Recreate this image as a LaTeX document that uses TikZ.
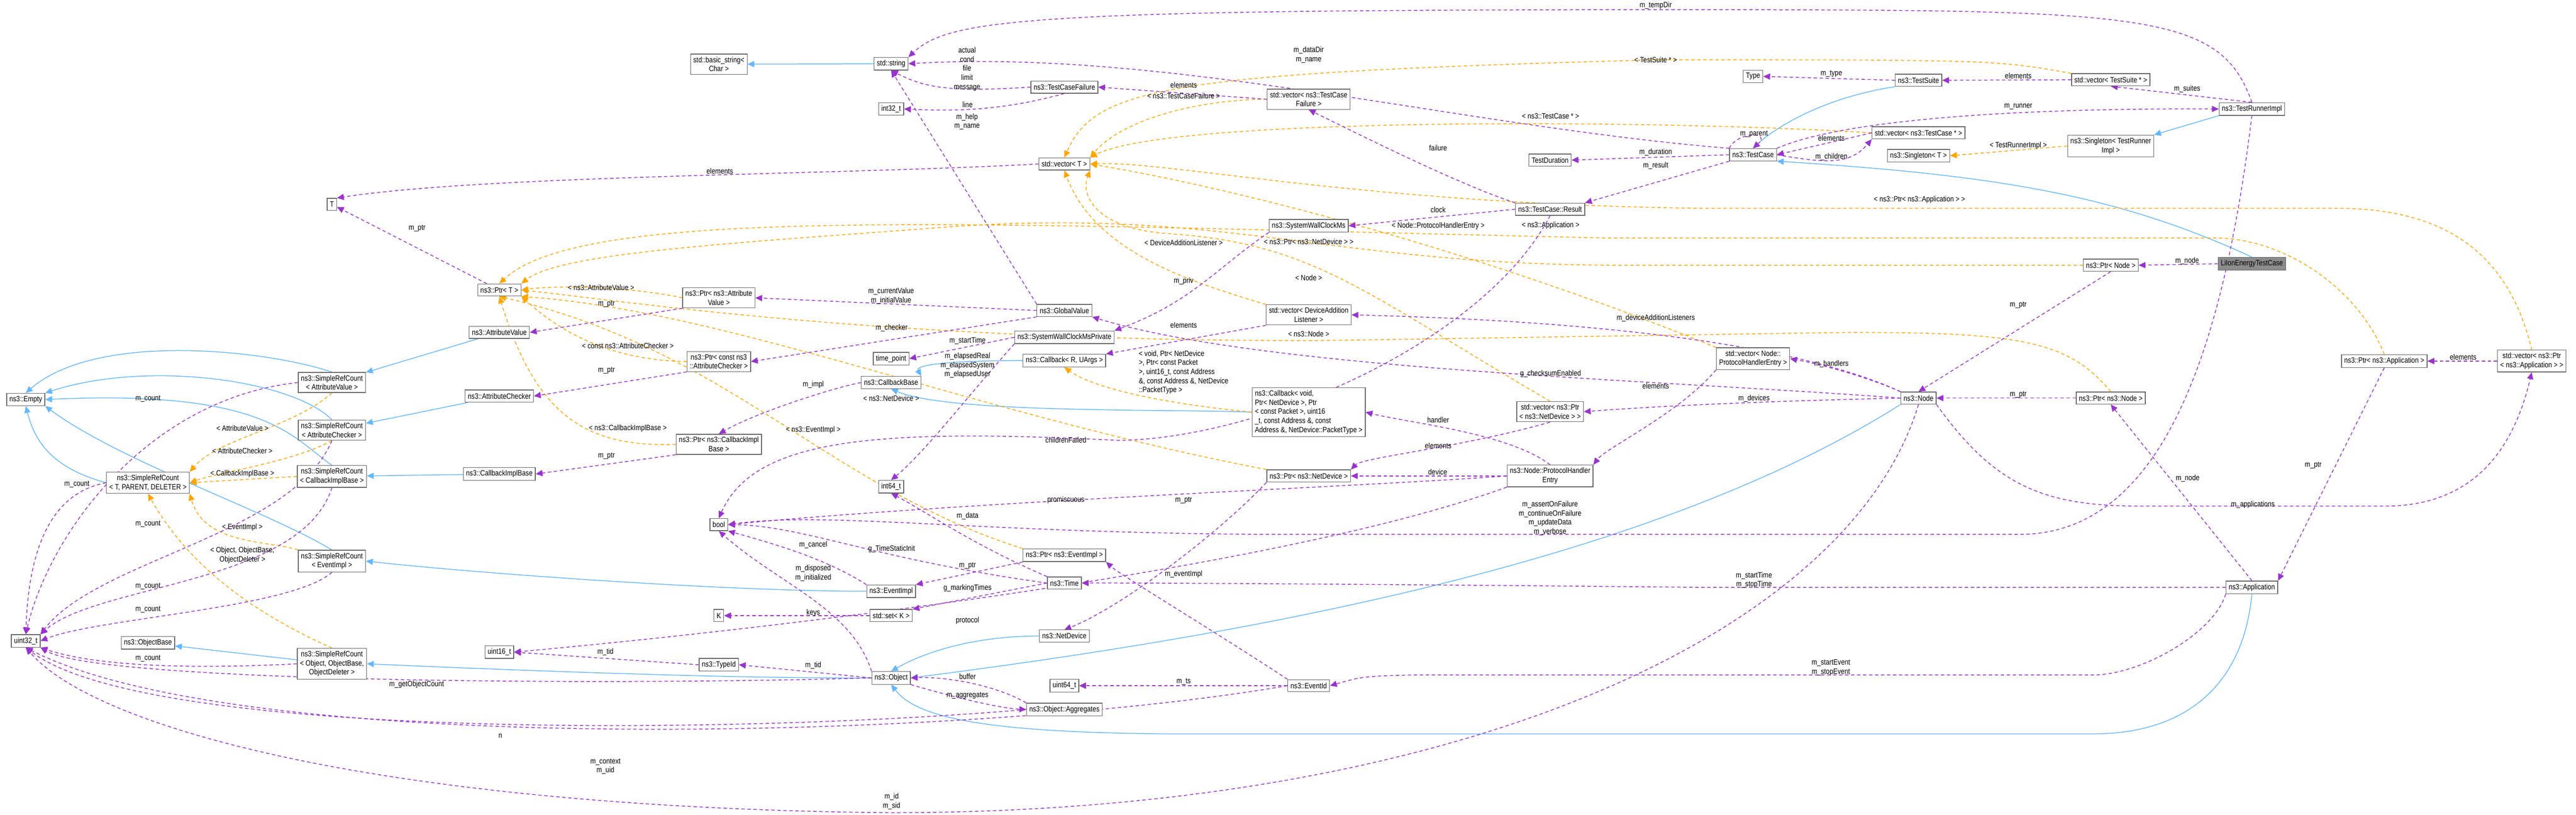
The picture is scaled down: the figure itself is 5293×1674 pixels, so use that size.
\documentclass[tikz,border=0pt]{standalone}
\usepackage{fontspec}
\setmainfont[FakeStretch=0.85]{Liberation Sans}
\usetikzlibrary{arrows.meta,backgrounds}
\definecolor{memc}{HTML}{9A32CD}
\definecolor{tplc}{HTML}{FFA500}
\definecolor{inhc}{HTML}{63B8FF}
\tikzset{
  cls/.style={draw=black!60, fill=white, align=center, inner sep=1.6pt,
    minimum height=0.25cm, font=\fontsize{4.5}{5.3}\selectfont},
  lbl/.style={align=center, inner sep=0pt, font=\fontsize{4.5}{5.3}\selectfont},
  mem/.style={draw=memc, dash pattern=on 2pt off 1.5pt, line width=0.45pt,
    -{Triangle[length=4pt,width=3.6pt]}},
  tpl/.style={draw=tplc, dash pattern=on 2pt off 1.5pt, line width=0.45pt,
    -{Triangle[length=4pt,width=3.6pt]}},
  inh/.style={draw=inhc, line width=0.45pt, -{Triangle[length=4pt,width=3.6pt]}}
}
\begin{document}
\begin{tikzpicture}[x=0.01cm,y=-0.01cm]
\useasboundingbox (0,0) rectangle (5293,1674);
% classes
\node[cls] (T) at (682,420) {T};
\node[cls] (ptrT) at (1026,596) {ns3::Ptr< T >};
\node[cls] (attrVal) at (1026,683) {ns3::AttributeValue};
\node[cls] (srcAttrVal) at (682,786) {ns3::SimpleRefCount\\< AttributeValue >};
\node[cls] (attrChk) at (1026,814) {ns3::AttributeChecker};
\node[cls] (empty) at (53,821) {ns3::Empty};
\node[cls] (srcAttrChk) at (682,884) {ns3::SimpleRefCount\\< AttributeChecker >};
\node[cls] (srcT) at (304,992) {ns3::SimpleRefCount\\< T, PARENT, DELETER >};
\node[cls] (srcCbImpl) at (682,979) {ns3::SimpleRefCount\\< CallbackImplBase >};
\node[cls] (cbImpl) at (1026,974) {ns3::CallbackImplBase};
\node[cls] (srcEvImpl) at (682,1153) {ns3::SimpleRefCount\\< EventImpl >};
\node[cls] (u32) at (53,1317) {uint32\_t};
\node[cls] (objBase) at (304,1321) {ns3::ObjectBase};
\node[cls] (srcObj) at (682,1364) {ns3::SimpleRefCount\\< Object, ObjectBase,\\ObjectDeleter >};
\node[cls] (u16) at (1026,1340) {uint16\_t};
\node[cls] (basicStr) at (1477,132) {std::basic\_string<\\Char >};
\node[cls] (str) at (1831,131) {std::string};
\node[cls] (tcFail) at (2187,179) {ns3::TestCaseFailure};
\node[cls] (i32) at (1831,224) {int32\_t};
\node[cls] (vecT) at (2187,337) {std::vector< T >};
\node[cls] (ptrAttrVal) at (1477,612) {ns3::Ptr< ns3::Attribute\\Value >};
\node[cls] (globVal) at (2187,638) {ns3::GlobalValue};
\node[cls] (swcPriv) at (2187,693) {ns3::SystemWallClockMsPrivate};
\node[cls] (timePt) at (1831,737) {time\_point};
\node[cls] (cbR) at (2187,741) {ns3::Callback< R, UArgs >};
\node[cls] (ptrAttrChk) at (1477,743) {ns3::Ptr< const ns3\\::AttributeChecker >};
\node[cls] (cbBase) at (1831,786) {ns3::CallbackBase};
\node[cls] (ptrCbImpl) at (1477,913) {ns3::Ptr< ns3::CallbackImpl\\Base >};
\node[cls] (i64) at (1831,1000) {int64\_t};
\node[cls] (bool) at (1477,1078) {bool};
\node[cls] (ptrEvImpl) at (2187,1141) {ns3::Ptr< ns3::EventImpl >};
\node[cls] (time) at (2187,1198) {ns3::Time};
\node[cls] (evImpl) at (1831,1215) {ns3::EventImpl};
\node[cls] (K) at (1477,1265) {K};
\node[cls] (setK) at (1831,1265) {std::set< K >};
\node[cls] (netDev) at (2187,1307) {ns3::NetDevice};
\node[cls] (typeId) at (1477,1366) {ns3::TypeId};
\node[cls] (object) at (1831,1393) {ns3::Object};
\node[cls] (u64) at (2187,1409) {uint64\_t};
\node[cls] (aggr) at (2187,1458) {ns3::Object::Aggregates};
\node[cls] (vecTcFail) at (2689,204) {std::vector< ns3::TestCase\\Failure >};
\node[cls] (type) at (3602,157) {Type};
\node[cls] (testDur) at (3185,329) {TestDuration};
\node[cls] (testCase) at (3602,318) {ns3::TestCase};
\node[cls] (result) at (3185,430) {ns3::TestCase::Result};
\node[cls] (swc) at (2689,464) {ns3::SystemWallClockMs};
\node[cls] (vecDAL) at (2689,647) {std::vector< DeviceAddition\\Listener >};
\node[cls] (vecPHE) at (3602,737) {std::vector< Node::\\ProtocolHandlerEntry >};
\node[cls, align=left] (cbVoid) at (2689,847) {ns3::Callback< void,\\ Ptr< NetDevice >, Ptr\\< const Packet >, uint16\\\_t, const Address \&, const\\ Address \&, NetDevice::PacketType >};
\node[cls] (vecNetDev) at (3185,846) {std::vector< ns3::Ptr\\< ns3::NetDevice > >};
\node[cls] (ptrNetDev) at (2689,978) {ns3::Ptr< ns3::NetDevice >};
\node[cls] (phe) at (3185,978) {ns3::Node::ProtocolHandler\\Entry};
\node[cls] (evId) at (2689,1409) {ns3::EventId};
\node[cls] (testSuite) at (3942,165) {ns3::TestSuite};
\node[cls] (vecSuite) at (4337,164) {std::vector< TestSuite * >};
\node[cls] (runner) at (4627,224) {ns3::TestRunnerImpl};
\node[cls] (vecTc) at (3942,273) {std::vector< ns3::TestCase * >};
\node[cls] (singTR) at (4337,300) {ns3::Singleton< TestRunner\\Impl >};
\node[cls] (singT) at (3942,320) {ns3::Singleton< T >};
\node[cls, fill=black!45] (liion) at (4627,542) {LiIonEnergyTestCase};
\node[cls] (ptrNode) at (4337,545) {ns3::Ptr< Node >};
\node[cls] (ptrApp) at (4899,742) {ns3::Ptr< ns3::Application >};
\node[cls] (vecApp) at (5202,742) {std::vector< ns3::Ptr\\< ns3::Application > >};
\node[cls] (ptrNsNode) at (4337,818) {ns3::Ptr< ns3::Node >};
\node[cls] (nsnode) at (3942,818) {ns3::Node};
\node[cls] (app) at (4627,1207) {ns3::Application};
\begin{scope}[on background layer]
% inheritance
\draw[inh] (str) -- (basicStr);
\draw[inh] (attrVal) -- (srcAttrVal);
\draw[inh] (attrChk) -- (srcAttrChk);
\draw[inh] (cbImpl) -- (srcCbImpl);
\draw[inh] (evImpl.west) .. controls (1500,1215) and (1000,1180) .. (srcEvImpl.east);
\draw[inh] (object.west) .. controls (1500,1395) and (1000,1375) .. (srcObj.east);
\draw[inh] (srcObj) -- (objBase);
\draw[inh] (srcAttrVal.north) .. controls (550,720) and (200,680) .. (empty.north);
\draw[inh] (srcAttrChk.north) .. controls (600,780) and (300,740) .. (empty.north east);
\draw[inh] (srcCbImpl.north) .. controls (600,900) and (550,800) .. (empty.east);
\draw[inh] (srcEvImpl.north) .. controls (550,1050) and (250,950) .. (empty.south east);
\draw[inh] (srcT.west) .. controls (100,960) and (70,900) .. (empty.south);
\draw[inh] (cbR.west) .. controls (1950,741) and (1880,750) .. (cbBase.north east);
\draw[inh] (cbVoid.west) .. controls (2400,840) and (1950,850) .. (cbBase.south);
\draw[inh] (netDev.west) .. controls (2000,1307) and (1900,1340) .. (object.north);
\draw[inh] (nsnode.south west) .. controls (3400,1150) and (2600,1300) .. (object.east);
\draw[inh] (app.south) .. controls (4610,1400) and (4500,1508) .. (4300,1508) -- (2400,1508) .. controls (2000,1505) and (1880,1470) .. (object.south);
\draw[inh] (testSuite.south west) .. controls (3750,200) and (3650,260) .. (testCase.north);
\draw[inh] (liion.north) .. controls (4350,400) and (4100,360) .. (testCase.south east);
\draw[inh] (runner.south west) -- (singTR.north east);
% template instances
\draw[tpl] (srcAttrVal.south) .. controls (600,880) and (450,900) .. (srcT.north east);
\draw[tpl] (srcAttrChk.south) .. controls (600,950) and (450,970) .. (srcT.east);
\draw[tpl] (srcCbImpl.west) -- (srcT.east);
\draw[tpl] (srcEvImpl.north west) .. controls (550,1110) and (420,1120) .. (srcT.south east);
\draw[tpl] (srcObj.north) .. controls (500,1250) and (380,1150) .. (srcT.south);
\draw[tpl] (ptrAttrVal.west) .. controls (1300,590) and (1150,585) .. (ptrT.east);
\draw[tpl] (ptrAttrChk.west) .. controls (1250,740) and (1150,680) .. (ptrT.south east);
\draw[tpl] (ptrCbImpl.west) .. controls (1200,920) and (1100,850) .. (ptrT.south);
\draw[tpl] (ptrEvImpl.north west) .. controls (1700,1000) and (1500,720) .. (ptrT.south);
\draw[tpl] (ptrNetDev.north west) .. controls (2000,850) and (1500,640) .. (ptrT.south east);
\draw[tpl] (ptrNode.west) -- (3300,545) .. controls (2700,540) and (2500,420) .. (1900,470) .. controls (1500,500) and (1150,520) .. (ptrT.north east);
\draw[tpl] (ptrNsNode.north) .. controls (4250,700) and (4150,683) .. (3800,683) -- (2700,700) .. controls (1800,700) and (1300,620) .. (ptrT.east);
\draw[tpl] (ptrApp.north) .. controls (4850,600) and (4700,489) .. (4550,489) -- (3300,489) .. controls (2000,460) and (1200,420) .. (ptrT.north);
\draw[tpl] (vecTcFail.west) .. controls (2450,205) and (2300,250) .. (vecT.north east);
\draw[tpl] (vecSuite.north west) .. controls (4100,123) .. (3400,123) .. controls (2400,150) and (2250,180) .. (vecT.north);
\draw[tpl] (vecTc.west) .. controls (3400,245) and (2400,240) .. (vecT.north east);
\draw[tpl] (vecApp.north) .. controls (5150,500) and (5000,428) .. (4800,428) -- (3500,428) .. controls (2800,420) and (2400,330) .. (vecT.east);
\draw[tpl] (vecPHE.north west) .. controls (3000,500) and (2500,380) .. (vecT.east);
\draw[tpl] (vecNetDev.north) .. controls (2800,600) and (2700,500) .. (2400,480) .. controls (2250,470) and (2220,400) .. (vecT.south east);
\draw[tpl] (vecDAL.north west) .. controls (2450,580) and (2250,520) .. (vecT.south);
\draw[tpl] (cbVoid.west) .. controls (2400,830) and (2250,800) .. (cbR.south);
\draw[tpl] (singTR.west) -- (singT.east);
% members
\draw[mem] (ptrT) -- (T);
\draw[mem] (vecT.west) .. controls (1700,360) and (1000,360) .. (T.north east);
\draw[mem] (srcAttrVal.west) .. controls (300,820) and (100,1100) .. (u32.north);
\draw[mem] (srcT.west) .. controls (120,1010) and (60,1100) .. (u32.north);
\draw[mem] (srcAttrChk.south) .. controls (600,1100) and (200,1150) .. (u32.north east);
\draw[mem] (srcCbImpl.south) .. controls (620,1200) and (200,1200) .. (u32.north east);
\draw[mem] (srcEvImpl.south) .. controls (600,1250) and (200,1270) .. (u32.east);
\draw[mem] (srcObj.west) .. controls (400,1375) and (200,1370) .. (u32.south east);
\draw[mem] (object.west) .. controls (1200,1410) and (200,1400) .. (u32.south east);
\draw[mem] (aggr.west) .. controls (1500,1510) and (300,1520) .. (u32.south);
\draw[mem] (evId.west) .. controls (2000,1520) and (500,1560) .. (u32.south);
\draw[mem] (nsnode.south) .. controls (3800,1300) and (3000,1670) .. (1830,1670) .. controls (800,1660) and (200,1500) .. (u32.south);
\draw[mem] (ptrAttrVal.south west) -- (attrVal.east);
\draw[mem] (ptrAttrChk.south west) -- (attrChk.east);
\draw[mem] (ptrCbImpl.south west) -- (cbImpl.east);
\draw[mem] (tcFail.west) .. controls (1950,190) and (1900,180) .. (str.south);
\draw[mem] (tcFail.south) .. controls (2050,230) and (1950,228) .. (i32.east);
\draw[mem] (globVal.north west) -- (str.south);
\draw[mem] (globVal.west) -- (ptrAttrVal.east);
\draw[mem] (globVal.south west) -- (ptrAttrChk.east);
\draw[mem] (vecTcFail.west) -- (tcFail.east);
\draw[mem] (swc.south west) .. controls (2500,550) and (2450,620) .. (swcPriv.north east);
\draw[mem] (swcPriv.west) -- (timePt.east);
\draw[mem] (swcPriv.south west) .. controls (2000,800) and (1900,930) .. (i64.north);
\draw[mem] (vecNetDev.south) .. controls (3000,920) and (2800,940) .. (ptrNetDev.north east);
\draw[mem] (vecDAL.south west) -- (cbR.north east);
\draw[mem] (cbBase.west) .. controls (1700,800) and (1550,850) .. (ptrCbImpl.north);
\draw[mem] (result.west) -- (swc.east);
\draw[mem] (result.north west) .. controls (3000,380) and (2800,280) .. (vecTcFail.south);
\draw[mem] (result.south) .. controls (3050,700) and (2600,900) .. (2300,905) .. controls (1800,880) and (1550,900) .. (bool.north);
\draw[mem] (phe.west) .. controls (2800,1000) and (2000,1030) .. (bool.east);
\draw[mem] (phe.south west) .. controls (2600,1180) and (1500,1300) .. (u16.east);
\draw[mem] (phe.west) -- (ptrNetDev.east);
\draw[mem] (phe.north) .. controls (3100,890) and (2900,870) .. (cbVoid.east);
\draw[mem] (ptrNetDev.south west) .. controls (2500,1100) and (2300,1250) .. (netDev.north);
\draw[mem] (ptrEvImpl.south west) -- (evImpl.north east);
\draw[mem] (time.north west) .. controls (2000,1120) and (1900,1050) .. (i64.south);
\draw[mem] (time.west) .. controls (1800,1150) and (1650,1080) .. (bool.east);
\draw[mem] (time.west) -- (setK.north east);
\draw[mem] (evImpl.north west) .. controls (1700,1150) and (1600,1120) .. (bool.south east);
\draw[mem] (object.north west) .. controls (1750,1250) and (1600,1200) .. (bool.south);
\draw[mem] (setK) -- (K);
\draw[mem] (object.west) -- (typeId.east);
\draw[mem] (typeId.west) -- (u16.east);
\draw[mem] (object.south east) .. controls (1950,1430) and (2050,1455) .. (aggr.west);
\draw[mem] (aggr.north west) .. controls (2050,1410) and (1950,1390) .. (object.east);
\draw[mem] (evId.north west) .. controls (2500,1300) and (2300,1180) .. (ptrEvImpl.south east);
\draw[mem] (evId.west) -- (u64.east);
\draw[mem] (nsnode.north west) .. controls (3700,710) and (3300,660) .. (vecDAL.east);
\draw[mem] (nsnode.north west) .. controls (3850,780) and (3750,750) .. (vecPHE.east);
\draw[mem] (nsnode.west) .. controls (3600,825) and (3400,835) .. (vecNetDev.east);
\draw[mem] (nsnode.west) .. controls (3400,780) and (2600,760) .. (globVal.south east);
\draw[mem] (nsnode.south east) .. controls (4100,1000) and (4200,1040) .. (4400,1040) -- (4900,1040) .. controls (5100,1040) and (5170,900) .. (vecApp.south);
\draw[mem] (vecPHE.south west) .. controls (3450,850) and (3300,920) .. (phe.north east);
\draw[mem] (testCase.north west) .. controls (3000,260) and (2400,100) .. (str.east);
\draw[mem] (testCase.north west) .. controls (3570,270) and (3640,270) .. (testCase.north);
\draw[mem] (testCase.east) .. controls (3750,335) and (3800,340) .. (vecTc.south west);
\draw[mem] (vecTc.west) -- (testCase.east);
\draw[mem] (testCase.west) -- (testDur.east);
\draw[mem] (testCase.south west) -- (result.north east);
\draw[mem] (testCase.north east) .. controls (3800,240) and (4200,222) .. (runner.west);
\draw[mem] (testSuite.west) -- (type.east);
\draw[mem] (vecSuite.west) -- (testSuite.east);
\draw[mem] (runner.north) -- (vecSuite.south);
\draw[mem] (runner.north) .. controls (4560,20) and (4400,20) .. (3400,20) .. controls (2100,20) and (1950,40) .. (str.north east);
\draw[mem] (runner.south) .. controls (4570,700) and (4450,1098) .. (4150,1098) -- (2600,1098) .. controls (2000,1095) and (1700,1050) .. (bool.east);
\draw[mem] (liion.west) -- (ptrNode.east);
\draw[mem] (ptrNode.south) -- (nsnode.north);
\draw[mem] (ptrNsNode.west) -- (nsnode.east);
\draw[mem] (app.north) -- (ptrNsNode.south);
\draw[mem] (ptrApp.south) -- (app.north east);
\draw[mem] (vecApp.west) -- (ptrApp.east);
\draw[mem] (app.west) -- (3500,1207) .. controls (2800,1200) and (2400,1198) .. (time.east);
\draw[mem] (app.south west) .. controls (4550,1300) and (4400,1387) .. (4300,1387) -- (2900,1387) .. controls (2800,1390) .. (evId.east);
\end{scope}
% labels
\node[lbl] at (498,880) {< AttributeValue >};
\node[lbl] at (498,926) {< AttributeChecker >};
\node[lbl] at (498,974) {< CallbackImplBase >};
\node[lbl] at (498,1084) {< EventImpl >};
\node[lbl] at (498,1141) {< Object, ObjectBase,\\ObjectDeleter >};
\node[lbl] at (1235,591) {< ns3::AttributeValue >};
\node[lbl] at (1290,711) {< const ns3::AttributeChecker >};
\node[lbl] at (1290,880) {< ns3::CallbackImplBase >};
\node[lbl] at (1671,884) {< ns3::EventImpl >};
\node[lbl] at (1831,818) {< ns3::NetDevice >};
\node[lbl] at (2689,571) {< Node >};
\node[lbl] at (2689,686) {< ns3::Node >};
\node[lbl] at (3186,463) {< ns3::Application >};
\node[lbl] at (2432,197) {< ns3::TestCaseFailure >};
\node[lbl] at (3402,123) {< TestSuite * >};
\node[lbl] at (3186,239) {< ns3::TestCase * >};
\node[lbl] at (3944,410) {< ns3::Ptr< ns3::Application > >};
\node[lbl] at (2955,464) {< Node::ProtocolHandlerEntry >};
\node[lbl] at (2689,497) {< ns3::Ptr< ns3::NetDevice > >};
\node[lbl] at (2432,499) {< DeviceAdditionListener >};
\node[lbl, align=left] at (2432,765) {< void, Ptr< NetDevice\\>, Ptr< const Packet\\>, uint16\_t, const Address\\\&, const Address \&, NetDevice\\::PacketType >};
\node[lbl] at (4147,299) {< TestRunnerImpl >};
\node[lbl] at (857,469) {m\_ptr};
\node[lbl] at (1479,352) {elements};
\node[lbl] at (304,820) {m\_count};
\node[lbl] at (158,995) {m\_count};
\node[lbl] at (304,1077) {m\_count};
\node[lbl] at (304,1205) {m\_count};
\node[lbl] at (304,1252) {m\_count};
\node[lbl] at (304,1353) {m\_count};
\node[lbl] at (856,1407) {m\_getObjectCount};
\node[lbl] at (1028,1512) {n};
\node[lbl] at (1244,1575) {m\_context\\m\_uid};
\node[lbl] at (1832,1647) {m\_id\\m\_sid};
\node[lbl] at (1246,625) {m\_ptr};
\node[lbl] at (1246,761) {m\_ptr};
\node[lbl] at (1246,937) {m\_ptr};
\node[lbl] at (1987,142) {actual\\cond\\file\\limit\\message};
\node[lbl] at (1988,215) {line};
\node[lbl] at (1987,250) {m\_help\\m\_name};
\node[lbl] at (1831,608) {m\_currentValue\\m\_initialValue};
\node[lbl] at (1832,674) {m\_checker};
\node[lbl] at (2432,175) {elements};
\node[lbl] at (2432,578) {m\_priv};
\node[lbl] at (1988,700) {m\_startTime};
\node[lbl] at (1988,751) {m\_elapsedReal\\m\_elapsedSystem\\m\_elapsedUser};
\node[lbl] at (2955,916) {elements};
\node[lbl] at (2432,668) {elements};
\node[lbl] at (1671,790) {m\_impl};
\node[lbl] at (2955,431) {clock};
\node[lbl] at (2955,304) {failure};
\node[lbl] at (2190,904) {childrenFailed};
\node[lbl] at (2190,1027) {promiscuous};
\node[lbl] at (1988,1275) {protocol};
\node[lbl] at (2954,970) {device};
\node[lbl] at (2955,863) {handler};
\node[lbl] at (2432,1028) {m\_ptr};
\node[lbl] at (1988,1163) {m\_ptr};
\node[lbl] at (1988,1060) {m\_data};
\node[lbl] at (1832,1128) {g\_TimeStaticInit};
\node[lbl] at (1988,1209) {g\_markingTimes};
\node[lbl] at (1671,1120) {m\_cancel};
\node[lbl] at (1671,1178) {m\_disposed\\m\_initialized};
\node[lbl] at (1671,1259) {keys};
\node[lbl] at (1671,1367) {m\_tid};
\node[lbl] at (1244,1340) {m\_tid};
\node[lbl] at (1988,1429) {m\_aggregates};
\node[lbl] at (1988,1390) {buffer};
\node[lbl] at (2432,1180) {m\_eventImpl};
\node[lbl] at (2432,1401) {m\_ts};
\node[lbl] at (3402,654) {m\_deviceAdditionListeners};
\node[lbl] at (3763,748) {m\_handlers};
\node[lbl] at (3604,819) {m\_devices};
\node[lbl] at (3186,768) {g\_checksumEnabled};
\node[lbl] at (4629,1037) {m\_applications};
\node[lbl] at (3402,793) {elements};
\node[lbl] at (2689,113) {m\_dataDir\\m\_name};
\node[lbl] at (3604,275) {m\_parent};
\node[lbl] at (3763,322) {m\_children};
\node[lbl] at (3763,284) {elements};
\node[lbl] at (3402,313) {m\_duration};
\node[lbl] at (3402,340) {m\_result};
\node[lbl] at (4147,219) {m\_runner};
\node[lbl] at (3763,152) {m\_type};
\node[lbl] at (4147,156) {elements};
\node[lbl] at (4494,183) {m\_suites};
\node[lbl] at (3402,11) {m\_tempDir};
\node[lbl] at (3185,1065) {m\_assertOnFailure\\m\_continueOnFailure\\m\_updateData\\m\_verbose};
\node[lbl] at (4494,536) {m\_node};
\node[lbl] at (4147,627) {m\_ptr};
\node[lbl] at (4147,811) {m\_ptr};
\node[lbl] at (4495,983) {m\_node};
\node[lbl] at (4753,956) {m\_ptr};
\node[lbl] at (5061,734) {elements};
\node[lbl] at (3604,1192) {m\_startTime\\m\_stopTime};
\node[lbl] at (3762,1372) {m\_startEvent\\m\_stopEvent};
\end{tikzpicture}
\end{document}
